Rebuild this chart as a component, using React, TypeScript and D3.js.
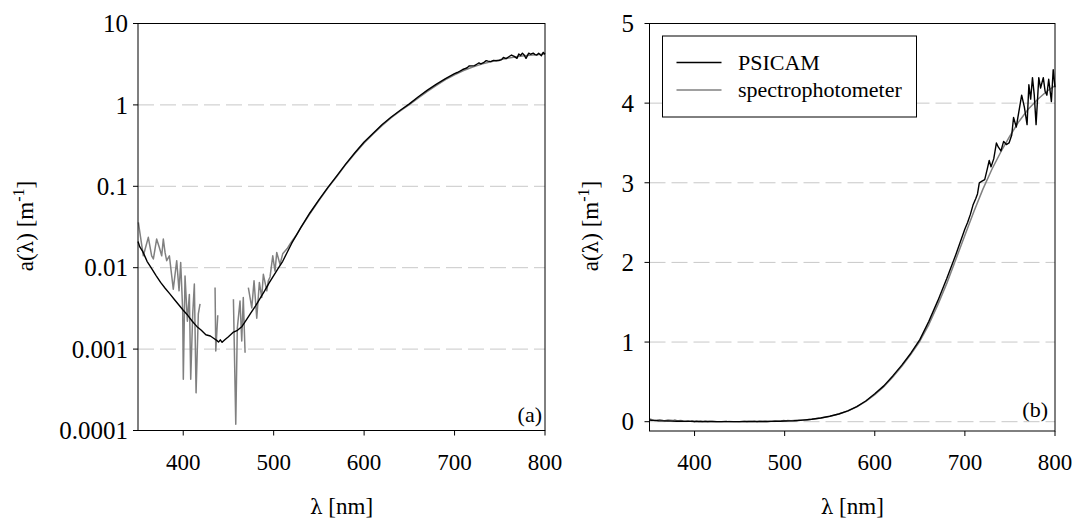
import React from 'react';
import * as d3 from 'd3';

// ---------- data ----------
const psicamWl = [350, 352, 355, 358, 360, 365, 370, 375, 380, 385, 390, 395, 400, 405, 410, 415, 420, 425, 430, 434, 437, 439, 441, 443, 446, 450, 455, 460, 465, 470, 475, 480, 485, 490, 495, 500, 505, 510, 515, 520, 525, 530, 540, 550, 560, 570, 580, 590, 600, 610, 620, 630, 640, 650, 660, 670, 680, 690, 700, 703, 706, 709, 712, 714, 716, 719, 722, 725, 727, 729, 732, 735, 737, 740, 743, 746, 749, 752, 754, 757, 760, 763, 766, 769, 771, 773, 775, 777, 779, 782, 784, 787, 789, 791, 793, 796, 798, 800];
const psicamA = [0.021, 0.018, 0.016, 0.0135, 0.012, 0.0098, 0.008, 0.0066, 0.0056, 0.0048, 0.0041, 0.0035, 0.003, 0.0026, 0.0022, 0.0019, 0.0017, 0.0015, 0.00145, 0.00135, 0.00128, 0.00122, 0.0013, 0.00121, 0.0013, 0.00142, 0.0016, 0.0017, 0.0019, 0.0023, 0.0028, 0.0034, 0.0042, 0.0052, 0.0065, 0.008, 0.0098, 0.012, 0.0155, 0.02, 0.025, 0.031, 0.047, 0.068, 0.097, 0.135, 0.19, 0.26, 0.35, 0.45, 0.575, 0.71, 0.86, 1.03, 1.26, 1.52, 1.8, 2.1, 2.42, 2.5, 2.6, 2.72, 2.8, 2.86, 3.0, 3.02, 3.04, 3.18, 3.28, 3.2, 3.3, 3.5, 3.45, 3.4, 3.52, 3.48, 3.5, 3.6, 3.82, 3.7, 3.9, 4.1, 3.95, 3.73, 4.23, 4.05, 4.32, 4.1, 3.73, 4.32, 4.19, 4.32, 4.15, 4.1, 4.3, 4.02, 4.42, 4.2];

const spectroWl = [350.4, 355.9, 361.4, 365.1, 367, 370.6, 373.6, 376.2, 378, 379.9, 381.7, 384.7, 387.3, 389, 392.8, 395.4, 397.2, 399.4, 400.1, 402, 404.6, 406.8, 408.3, 410.5, 412.3, 414.2, 416.7, 418.6, 424, 430, 435.2, 436, 438.2, 443, 450, 455.5, 458.1, 459.8, 462.8, 464.7, 466.4, 468.4, 470, 472, 475.8, 478.3, 481.3, 484.2, 486.8, 488.6, 492.4, 494.1, 496, 499, 501.5, 503.4, 507, 510, 512.6, 515, 518, 520, 525, 530, 540, 550, 560, 570, 580, 590, 600, 610, 620, 630, 640, 650, 660, 670, 680, 690, 700, 710, 720, 730, 740, 750, 760, 770, 780, 790, 800];
const spectroA = [0.036, 0.014, 0.0236, 0.014, 0.0128, 0.0225, 0.0177, 0.014, 0.0225, 0.0154, 0.0122, 0.014, 0.0079, 0.00545, 0.0122, 0.0052, 0.0116, 0.003, 0.000425, 0.0079, 0.0022, 0.0047, 0.000425, 0.0027, 0.0063, 0.00029, 0.0027, 0.0036, -0.0012, -0.0008, 0.0057, 0.00095, 0.0026, -0.001, -0.0006, 0.0041, 0.000119, 0.0018, 0.0039, 0.00126, 0.0043, 0.0009, -0.0003, 0.0057, 0.0032, 0.0069, 0.0024, 0.0066, 0.0043, 0.0083, 0.0052, 0.0069, 0.0077, 0.014, 0.0091, 0.0154, 0.011, 0.0148, 0.016, 0.0172, 0.0195, 0.021, 0.025, 0.031, 0.046, 0.067, 0.096, 0.133, 0.187, 0.255, 0.34, 0.44, 0.56, 0.695, 0.845, 1.01, 1.22, 1.47, 1.74, 2.04, 2.34, 2.64, 2.92, 3.17, 3.39, 3.59, 3.77, 3.92, 4.04, 4.14, 4.22];

const xTicks = [400, 500, 600, 700, 800];
const logTicks = [0.0001, 0.001, 0.01, 0.1, 1, 10];
const logTickLabels = ['0.0001', '0.001', '0.01', '0.1', '1', '10'];
const linTicks = [0, 1, 2, 3, 4, 5];
const seriesNames = ['PSICAM', 'spectrophotometer'];
const panelLabels = ['(a)', '(b)'];

type Pt = { wl: number; a: number };
const psicam: Pt[] = psicamWl.map((wl, i) => ({ wl, a: psicamA[i] }));
const spectro: Pt[] = spectroWl.map((wl, i) => ({ wl, a: spectroA[i] }));

const FONT = '"Liberation Serif", "Times New Roman", serif';
const GREEK = '"DejaVu Serif", "Liberation Serif", serif';
const BLACK = '#000';
const GRAY = '#808080';
const GRID = '#c8c8c8';

function YLabel({ x, y }: { x: number; y: number }) {
  return (
    <text transform={`translate(${x},${y}) rotate(-90)`} textAnchor="middle" fontSize={23} style={{ fontFamily: FONT }}>
      <tspan style={{ fontFamily: FONT }}>a(</tspan>
      <tspan style={{ fontFamily: GREEK }} fontSize={20}>λ</tspan>
      <tspan style={{ fontFamily: FONT }}>) [m</tspan>
      <tspan dy={-9} fontSize={16} style={{ fontFamily: FONT }}>-1</tspan>
      <tspan dy={9} style={{ fontFamily: FONT }}>]</tspan>
    </text>
  );
}

function XLabel({ x, y }: { x: number; y: number }) {
  return (
    <text x={x} y={y} textAnchor="middle" fontSize={23} style={{ fontFamily: FONT }}>
      <tspan style={{ fontFamily: GREEK }} fontSize={20}>λ</tspan>
      <tspan style={{ fontFamily: FONT }}> [nm]</tspan>
    </text>
  );
}

export default function App() {
  // Panel (a) - log scale
  const xA = d3.scaleLinear().domain([350, 800]).range([138, 545]);
  const yA = d3.scaleLog().domain([0.0001, 10]).range([430.5, 23.5]);
  const topA = 23.5, botA = 430.5;

  // Panel (b) - linear
  const xB = d3.scaleLinear().domain([350, 800]).range([649.5, 1055]);
  const yB = d3.scaleLinear().domain([0, 5]).range([421.7, 23.5]);
  const topB = 23.5, botB = 431;

  const lineA = d3.line<Pt>().defined(d => d.a > 0).x(d => xA(d.wl)).y(d => yA(d.a));
  const lineB = d3.line<Pt>().x(d => xB(d.wl)).y(d => yB(d.a));

  return (
    <svg width={1078} height={524} style={{ position: 'absolute', left: 0, top: 0, background: '#fff', fontFamily: FONT }}>
      <rect width={1078} height={524} fill="#fff" />
      {/* ---------- Panel a ---------- */}
      <g>
        {logTicks.slice(1, -1).map(t => (
          <line key={t} x1={xA(350)} x2={xA(800)} y1={yA(t)} y2={yA(t)} stroke={GRID} strokeWidth={1} strokeDasharray="16,6" />
        ))}
        <path d={lineA(spectro) || ''} fill="none" stroke={GRAY} strokeWidth={1.5} strokeLinejoin="round" />
        <path d={lineA(psicam) || ''} fill="none" stroke={BLACK} strokeWidth={1.4} strokeLinejoin="round" />
        <rect x={xA(350)} y={topA} width={xA(800) - xA(350)} height={botA - topA} fill="none" stroke="#000" strokeWidth={1} />
        {logTicks.map((t, i) => (
          <g key={t}>
            <line x1={xA(350) - 5} x2={xA(350)} y1={yA(t)} y2={yA(t)} stroke="#000" />
            <text x={128} y={yA(t)} dy="0.35em" textAnchor="end" fontSize={25}>{logTickLabels[i]}</text>
          </g>
        ))}
        {xTicks.map(t => (
          <g key={t}>
            <line x1={xA(t)} x2={xA(t)} y1={botA} y2={botA + 5} stroke="#000" />
            <text x={xA(t)} y={470} textAnchor="middle" fontSize={23}>{t}</text>
          </g>
        ))}
        <XLabel x={(xA(350) + xA(800)) / 2} y={514} />
        <YLabel x={33} y={226} />
        <text x={542} y={422} textAnchor="end" fontSize={22}>{panelLabels[0]}</text>
      </g>

      {/* ---------- Panel b ---------- */}
      <g>
        {linTicks.slice(0, -1).map(t => (
          <line key={t} x1={xB(350)} x2={xB(800)} y1={yB(t)} y2={yB(t)} stroke={GRID} strokeWidth={1} strokeDasharray="16,6" />
        ))}
        <path d={lineB(spectro) || ''} fill="none" stroke={GRAY} strokeWidth={1.5} strokeLinejoin="round" />
        <path d={lineB(psicam) || ''} fill="none" stroke={BLACK} strokeWidth={1.4} strokeLinejoin="round" />
        <rect x={xB(350)} y={topB} width={xB(800) - xB(350)} height={botB - topB} fill="none" stroke="#000" strokeWidth={1} />
        {linTicks.map(t => (
          <g key={t}>
            <line x1={xB(350) - 5} x2={xB(350)} y1={yB(t)} y2={yB(t)} stroke="#000" />
            <text x={634} y={yB(t)} dy="0.35em" textAnchor="end" fontSize={25}>{t}</text>
          </g>
        ))}
        {xTicks.map(t => (
          <g key={t}>
            <line x1={xB(t)} x2={xB(t)} y1={botB} y2={botB + 5} stroke="#000" />
            <text x={xB(t)} y={470} textAnchor="middle" fontSize={23}>{t}</text>
          </g>
        ))}
        <XLabel x={(xB(350) + xB(800)) / 2} y={514} />
        <YLabel x={598} y={226} />
        <text x={1048} y={417} textAnchor="end" fontSize={22}>{panelLabels[1]}</text>

        {/* legend */}
        <rect x={662.5} y={36} width={254} height={81} fill="#fff" stroke="#000" strokeWidth={1} />
        <line x1={676.5} x2={721.5} y1={62.5} y2={62.5} stroke={BLACK} strokeWidth={1.6} />
        <line x1={676.5} x2={721.5} y1={90} y2={90} stroke={GRAY} strokeWidth={1.6} />
        <text x={738} y={70} fontSize={22}>{seriesNames[0]}</text>
        <text x={738} y={97} fontSize={22}>{seriesNames[1]}</text>
      </g>
    </svg>
  );
}
